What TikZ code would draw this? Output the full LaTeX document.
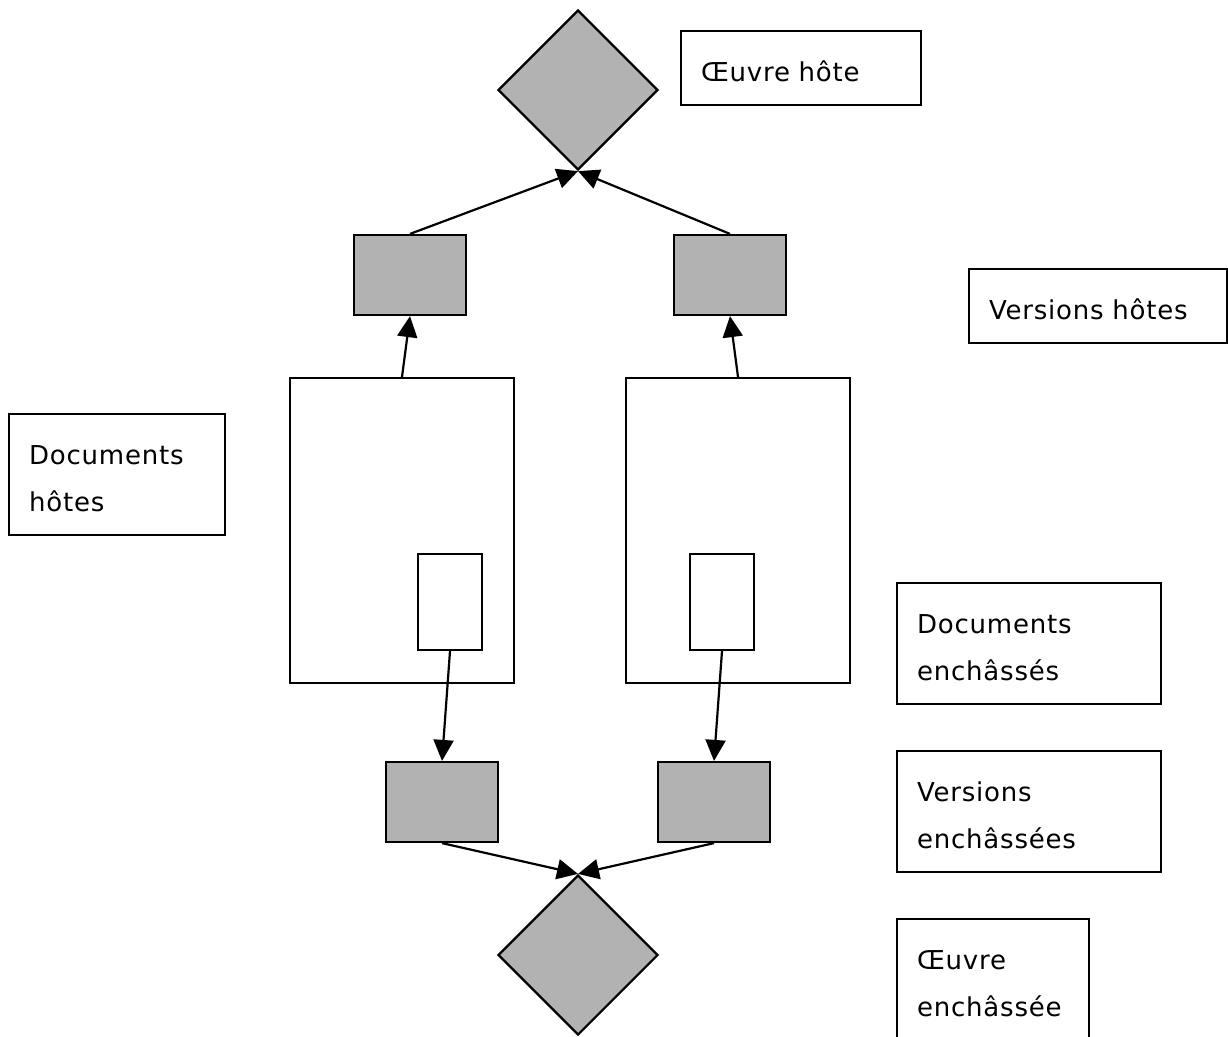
\documentclass[tikz,border=0pt]{standalone}
\usepackage{fontspec}
\setmainfont{DejaVu Sans}[LetterSpace=3]
\usetikzlibrary{arrows.meta}
\usetikzlibrary{shapes.geometric}
\definecolor{boxgray}{RGB}{178,178,178}

\begin{document}
\begin{tikzpicture}[x=1pt,y=-1pt,line width=2.2pt,
    font=\fontsize{26}{47}\selectfont,
    work/.style={draw,diamond,fill=boxgray,aspect=1,minimum width=160pt,minimum height=160pt,inner sep=0pt},
    version/.style={draw,rectangle,fill=boxgray,minimum width=112pt,minimum height=80pt,inner sep=0pt},
    document/.style={draw,rectangle,fill=white,minimum width=224pt,minimum height=305pt,inner sep=0pt},
    embed/.style={draw,rectangle,fill=white,minimum width=64pt,minimum height=96pt,inner sep=0pt},
    legend/.style={draw,rectangle,anchor=north west,align=left,inner xsep=20pt,inner ysep=24pt,text height=26pt,text depth=0pt},
    legendtwo/.style={legend,text depth=47pt},
    link/.style={-{Triangle[length=21pt,width=20pt]}}]
    \useasboundingbox (0,0) rectangle (1228,1036);
            \node[work] (oh) at (578,90) {};
            \node[version] (vh1) at (410,275) {};
            \node[version] (vh2) at (730,275) {};
            \node[document] (dh1) at (402,530.5) {};
            \node[document] (dh2) at (738,530.5) {};
            \node[embed] (de1) at (450,602) {};
            \node[embed] (de2) at (722,602) {};
            \node[version] (ve1) at (442,802) {};
            \node[version] (ve2) at (714,802) {};
            \node[work] (oe) at (578,955) {};
            \draw[link] (vh1.north) -- (oh.south);
            \draw[link] (vh2.north) -- (oh.south);
            \draw[link] (dh1.north) -- (vh1.south);
            \draw[link] (dh2.north) -- (vh2.south);
            \draw[link] (de1.south) -- (ve1.north);
            \draw[link] (de2.south) -- (ve2.north);
            \draw[link] (ve1.south) -- (oe.north);
            \draw[link] (ve2.south) -- (oe.north);
            \node[legend,text width=200pt] (loh) at (680,30) {Œuvre hôte};
            \node[legend,text width=218pt] (lvh) at (968,268) {Versions hôtes};
            \node[legendtwo,text width=176pt] (ldh) at (8,413) {Documents\\hôtes};
            \node[legendtwo,text width=224pt] (lde) at (896,582) {Documents\\enchâssés};
            \node[legendtwo,text width=224pt] (lve) at (896,750) {Versions\\enchâssées};
            \node[legendtwo,text width=152pt,text depth=80pt] (loe) at (896,918) {Œuvre\\enchâssée};
        \end{tikzpicture}
\end{document}
